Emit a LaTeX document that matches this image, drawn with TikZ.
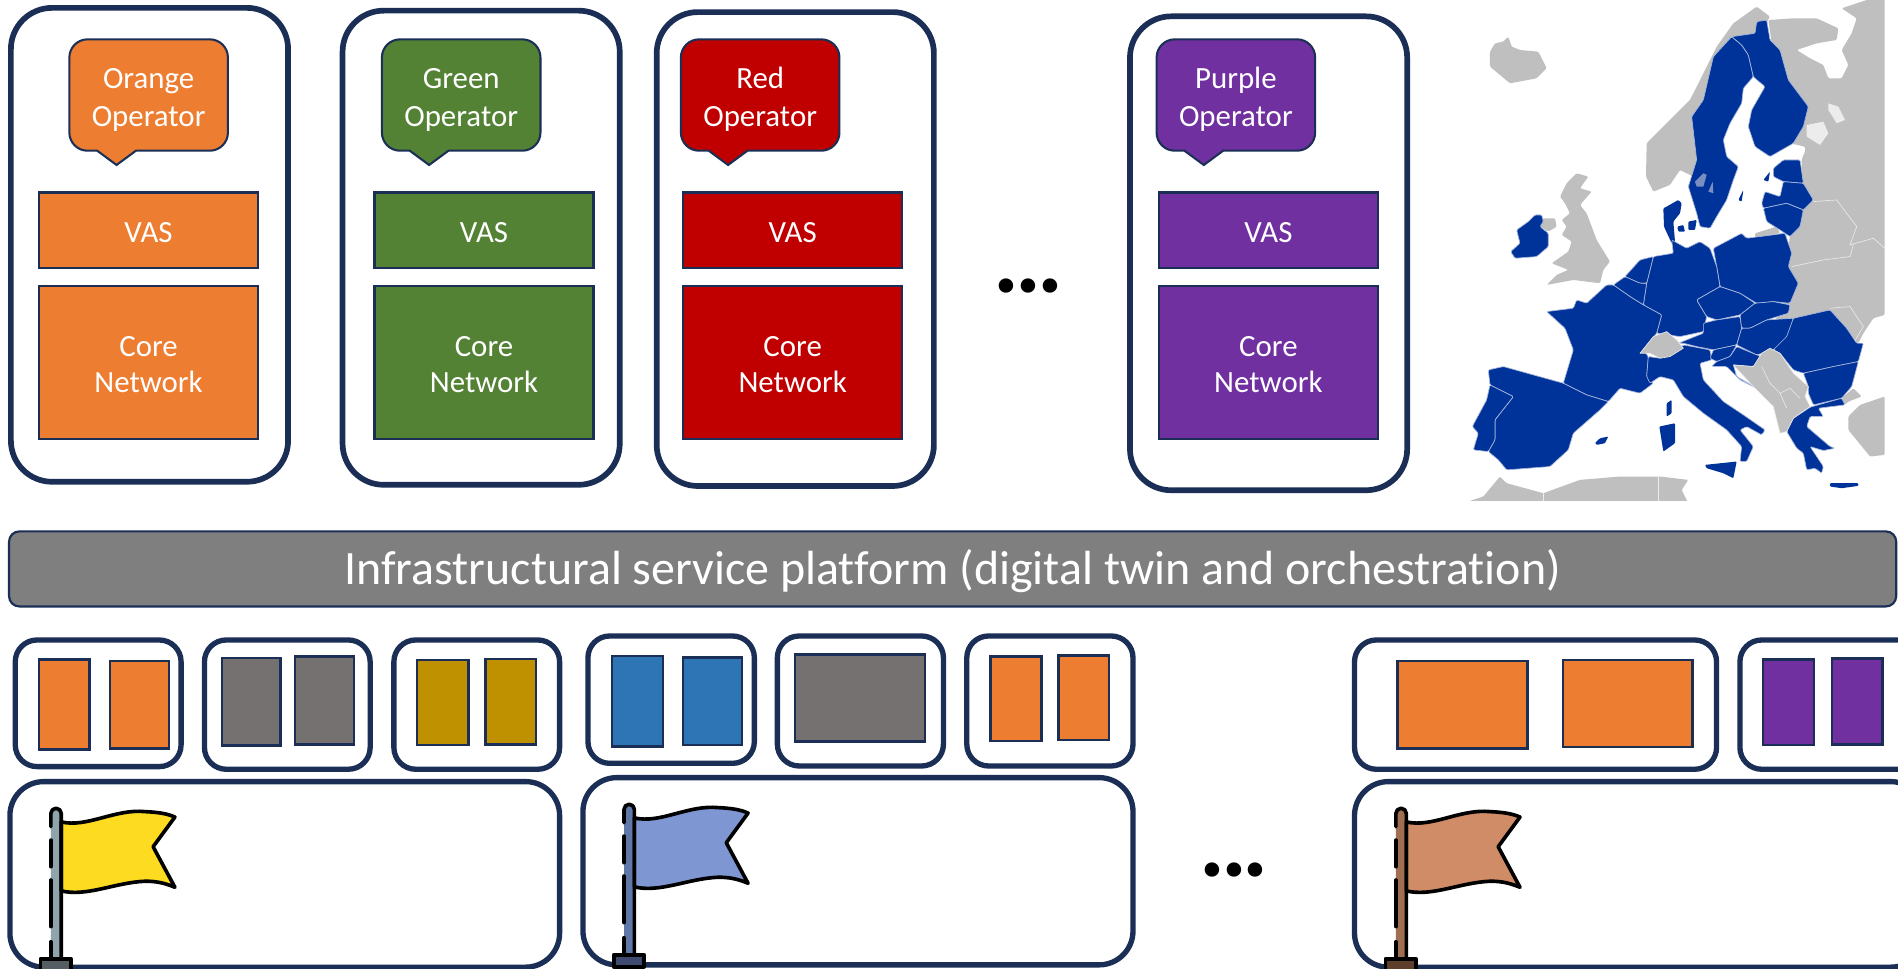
\documentclass[tikz,border=0pt]{standalone}
\usepackage{fontspec}
\setmainfont[Ligatures=NoCommon]{Carlito}
\definecolor{navy}{HTML}{1B2F56}
\definecolor{cOrange}{HTML}{ED7D31}
\definecolor{cGreen}{HTML}{548235}
\definecolor{cRed}{HTML}{C00000}
\definecolor{cPurple}{HTML}{7030A0}
\definecolor{cGold}{HTML}{BF9000}
\definecolor{cGray}{HTML}{767171}
\definecolor{cBlue}{HTML}{2E75B6}
\definecolor{cBar}{HTML}{7F7F7F}
\definecolor{euBlue}{HTML}{003399}
\definecolor{mapGray}{HTML}{BFBFBF}
\definecolor{mapLine}{HTML}{A9B8DC}
\definecolor{lakeBlue}{HTML}{7A8FBF}
\definecolor{fYa}{HTML}{FCDB21}\definecolor{fYb}{HTML}{90A4AE}\definecolor{fYc}{HTML}{545E63}
\definecolor{fBa}{HTML}{7E97D3}\definecolor{fBb}{HTML}{6078A8}\definecolor{fBc}{HTML}{3E4A70}
\definecolor{fNa}{HTML}{D08C66}\definecolor{fNb}{HTML}{A06E50}\definecolor{fNc}{HTML}{5E3F2C}
\tikzset{
  panel/.style={draw=navy,line width=4.7pt,rounded corners=34pt,fill=white},
  smallpanel/.style={draw=navy,line width=4.4pt,rounded corners=18pt,fill=white},
  sitepanel/.style={draw=navy,line width=4.4pt,rounded corners=28pt,fill=white},
  block/.style={draw=navy,line width=2pt},
  barbox/.style={draw=navy,line width=1.8pt,fill=cBar,rounded corners=8.5pt},
  eu/.style={fill=euBlue,draw=mapLine,line width=.55pt,line join=round,rounded corners=1pt},
  euIsle/.style={fill=euBlue,rounded corners=.8pt},
  nonEu/.style={fill=mapGray,draw=none,rounded corners=1pt},
  nonEuL/.style={fill=mapGray,draw=white!85!gray,line width=.5pt,line join=round},
  lbl/.style={text=white,font=\fontsize{25.5}{30.5}\selectfont,align=center},
  dotsty/.style={font=\fontsize{80}{80}\selectfont\bfseries}
}
\newcommand{\threedots}{.\kern-3.5pt.\kern-3.5pt.}
\newcommand{\bx}[7]{%
  \pgfmathsetmacro\bxcx{(#2+#4)/2}\pgfmathsetmacro\bxcy{(#3+#5)/2}%
  \pgfmathsetmacro\bxw{#4-#2}\pgfmathsetmacro\bxh{#5-#3}%
  \node[rectangle,inner sep=0pt,outer sep=0pt,minimum width=\bxw pt,minimum height=\bxh pt,#6] (#1) at (\bxcx,\bxcy) {#7};}
\newcommand{\blocktext}[8]{% name, x1, y1, x2, y2, colour, text, label name
  \bx{#1}{#2}{#3}{#4}{#5}{block,fill=#6}{}
  \pgfmathsetmacro\bxcy{(#3+#5)/2+1.7}%
  \node[lbl] (#8) at (\bxcx,\bxcy) {#7};}
\newcommand{\bubble}[4]{% name, left, colour, text
  \path[draw=navy,line width=1.7pt,fill=#3]
    (#2+15,32.5) -- (#2+116,32.5) arc[start angle=90,end angle=0,radius=15pt] -- (#2+131,109.5)
    arc[start angle=0,end angle=-90,radius=15pt] -- (#2+55,124.5) -- (#2+39,136.3) -- (#2+23,124.5) -- (#2+15,124.5)
    arc[start angle=270,end angle=180,radius=15pt] -- (#2,47.5) arc[start angle=180,end angle=90,radius=15pt] -- cycle;
  \node[lbl] (#1) at (#2+65.5,82.3) {#4};}
\newcommand{\flagicon}[5]{% dx, dy, cloth, pole, base
  \begin{scope}[shift={(#1,#2)},line cap=round,line join=round]
    \fill[#4] (42,672) arc[start angle=180,end angle=0,radius=4.3pt] -- (50.6,792) -- (42,792) -- cycle;
    \draw[fill=#3,line width=3pt] (50.6,679) .. controls (72,684) and (95,668) .. (120,670.5)
      .. controls (130,671) and (138,672) .. (144.5,675) -- (126.5,699.5) -- (144.5,733)
      .. controls (135,729) and (128,728) .. (120,728) .. controls (95,729) and (72,741) .. (50.6,736) -- cycle;
    \draw[line width=3pt] (42,683) -- (42,672) arc[start angle=180,end angle=0,radius=4.3pt] -- (50.6,792);
    \draw[line width=3pt] (42,694) -- (42,716) (42,727) -- (42,765.5) (42,778) -- (42,792);
    \draw[fill=#5,line width=3pt] (33.5,792) rectangle (58.5,802);
  \end{scope}}
\begin{document}
\begin{tikzpicture}[x=1pt,y=-1pt]
\useasboundingbox (0,0) rectangle (1568,800.5);
\clip (0,0) rectangle (1568,800.5);
\fill[white] (0,0) rectangle (1568,800.5);

% operator columns
\bx{pO}{9}{6.5}{238}{398}{panel}{}
\bx{pG}{283}{8.8}{512}{400.5}{panel}{}
\bx{pR}{542.5}{10}{771.5}{401.5}{panel}{}
\bx{pP}{933.5}{13.5}{1162.5}{405}{panel}{}
\bubble{bO}{57.3}{cOrange}{Orange\\[1pt]Operator}
\bubble{bG}{315.5}{cGreen}{Green\\[1pt]Operator}
\bubble{bR}{562.5}{cRed}{Red\\[1pt]Operator}
\bubble{bP}{955.5}{cPurple}{Purple\\[1pt]Operator}
\blocktext{vO}{32.4}{159}{213}{221.4}{cOrange}{VAS}{tvO}
\blocktext{cO}{32.4}{236.5}{213}{362.5}{cOrange}{Core\\Network}{tcO}
\blocktext{vG}{309.4}{159}{490.3}{221.4}{cGreen}{VAS}{tvG}
\blocktext{cG}{309.4}{236.5}{490.3}{362.5}{cGreen}{Core\\Network}{tcG}
\blocktext{vR}{564.4}{159}{745.3}{221.4}{cRed}{VAS}{tvR}
\blocktext{cR}{564.4}{236.5}{745.3}{362.5}{cRed}{Core\\Network}{tcR}
\blocktext{vP}{957.4}{159}{1138.3}{221.4}{cPurple}{VAS}{tvP}
\blocktext{cP}{957.4}{236.5}{1138.3}{362.5}{cPurple}{Core\\Network}{tcP}
\node[dotsty] (dotsTop) at (849.5,236) {\threedots};

% platform bar
\bx{bar}{7.5}{439}{1566.5}{501}{barbox}{}
\node[text=white,font=\fontsize{39.6}{44}\selectfont] (barText) at (787,472) {Infrastructural service platform (digital twin and orchestration)};

% site panels
\bx{sa}{12.6}{528.7}{149.6}{633.3}{smallpanel}{}
\bx{sa1}{32.3}{544.7}{74}{619.3}{block,fill=cOrange}{}
\bx{sa2}{91}{546}{139.4}{618.2}{block,fill=cOrange}{}
\bx{sb}{168.9}{528.7}{305.8}{635.5}{smallpanel}{}
\bx{sb1}{183.4}{543.6}{231.8}{616}{block,fill=cGray}{}
\bx{sb2}{243.5}{542.2}{292.5}{614.9}{block,fill=cGray}{}
\bx{sc}{325.4}{528.7}{462.3}{635.5}{smallpanel}{}
\bx{sc1}{344.7}{545}{387}{615.4}{block,fill=cGold}{}
\bx{sc2}{401}{544.4}{442.7}{614.9}{block,fill=cGold}{}
\bx{siteA}{8.2}{645.7}{462.3}{799}{sitepanel}{}
\bx{sd}{485.7}{525.4}{623.2}{630.6}{smallpanel}{}
\bx{sd1}{505.6}{541.9}{547.7}{616.8}{block,fill=cBlue}{}
\bx{sd2}{564.4}{543}{613}{615.4}{block,fill=cBlue}{}
\bx{se}{642.2}{525.4}{779.4}{632.8}{smallpanel}{}
\bx{se1}{657}{540.6}{764}{612.7}{block,fill=cGray}{}
\bx{sf}{798.7}{525.4}{936}{632.8}{smallpanel}{}
\bx{sf1}{818.3}{542.5}{860.4}{612.1}{block,fill=cOrange}{}
\bx{sf2}{874.6}{541.4}{916.3}{611.3}{block,fill=cOrange}{}
\bx{siteB}{481.6}{642.4}{936}{797.1}{sitepanel}{}
\bx{sg}{1119}{528.7}{1418.1}{635.5}{smallpanel}{}
\bx{sg1}{1154.4}{546}{1262}{618.2}{block,fill=cOrange}{}
\bx{sg2}{1291.3}{545.2}{1398.2}{617.1}{block,fill=cOrange}{}
\bx{sh}{1437.4}{528.7}{1590}{635.5}{smallpanel}{}
\bx{sh1}{1456.4}{544.7}{1498.8}{615.4}{block,fill=cPurple}{}
\bx{sh2}{1513.3}{544}{1555}{614.9}{block,fill=cPurple}{}
\bx{siteC}{1119}{645.7}{1590}{799}{sitepanel}{}
\node[dotsty] (dotsBot) at (1019.5,719) {\threedots};
\flagicon{0}{0}{fYa}{fYb}{fYc}
\flagicon{473.5}{-3.3}{fBa}{fBb}{fBc}
\flagicon{1111.2}{0}{fNa}{fNb}{fNc}

% map of Europe
\begin{scope}[shift={(1189.6,0)},x=.2754pt,y=-.2753pt]
\clip (70,-5) rectangle (1334,1502);
% non-EU land
\path[nonEu] (150,155) -- (165,130) -- (190,125) -- (205,110) -- (215,140) -- (240,150) -- (295,155) -- (320,205) -- (290,235) -- (210,250) -- (180,225) -- (150,200) -- cycle;
\path[nonEu] (640,575) -- (618,530) -- (620,430) -- (680,370) -- (750,300) -- (790,220) -- (830,140) -- (880,70) -- (950,20) -- (990,50) -- (960,100) -- (880,115) -- (830,200) -- (800,400) -- (760,530) -- (720,510) -- (690,555) -- cycle;
\path[nonEu] (985,60) -- (1060,55) -- (1130,55) -- (1195,85) -- (1190,120) -- (1130,130) -- (1070,150) -- (1110,175) -- (1150,195) -- (1165,235) -- (1205,235) -- (1225,195) -- (1205,150) -- (1235,100) -- (1250,55) -- (1205,25) -- (1280,0) -- (1334,-5) -- (1334,945) -- (1300,955) -- (1270,1000) -- (1255,1030) -- (1200,1000) -- (1000,1000) -- (1040,800) -- (1050,700) -- (1085,560) -- (1085,478) -- (1095,455) -- (1095,440) -- (1050,430) -- (1020,300) -- cycle;
\fill[white!85!gray] (1100,375) -- (1150,365) -- (1165,400) -- (1140,435) -- (1100,410) -- cycle;
\fill[white!85!gray] (1165,310) -- (1195,320) -- (1215,360) -- (1190,370) -- (1165,330) -- cycle;
\draw[white!85!gray,line width=.5pt] (1120,605) -- (1190,600) -- (1250,680) -- (1230,735) -- (1300,715) -- (1334,745) (1055,800) -- (1150,780) -- (1230,770) -- (1240,735) (1170,925) -- (1230,920) -- (1270,980) -- (1240,1030);
\path[nonEu] (945,700) -- (1010,680) -- (1020,700) -- (945,712) -- cycle;
\path[nonEu] (360,590) -- (380,550) -- (410,520) -- (445,530) -- (420,565) -- (455,575) -- (420,615) -- (440,640) -- (470,720) -- (510,785) -- (490,810) -- (480,850) -- (400,840) -- (320,855) -- (350,825) -- (385,810) -- (335,790) -- (385,755) -- (395,725) -- (365,705) -- (380,680) -- (365,660) -- (390,640) -- (375,610) -- cycle;
\path[nonEu] (300,655) -- (345,655) -- (350,680) -- (325,695) -- (300,680) -- cycle;
\path[nonEu] (1205,1195) -- (1240,1165) -- (1265,1190) -- (1225,1205) -- (1215,1215) -- cycle;
\path[nonEu] (1334,1190) -- (1260,1215) -- (1225,1250) -- (1225,1290) -- (1290,1370) -- (1334,1365) -- cycle;
\path[nonEu] (70,1510) -- (130,1490) -- (180,1430) -- (200,1450) -- (310,1480) -- (420,1440) -- (540,1430) -- (660,1430) -- (745,1440) -- (725,1470) -- (745,1510) -- cycle;
\draw[white!85!gray,line width=.5pt] (310,1480) -- (310,1510) (655,1430) -- (655,1510);
% EU members
\path[eu] (875,110) -- (905,135) -- (925,165) -- (940,230) -- (910,265) -- (905,310) -- (870,370) -- (850,420) -- (860,470) -- (895,500) -- (880,540) -- (860,600) -- (830,650) -- (810,685) -- (780,680) -- (770,640) -- (745,560) -- (770,480) -- (755,350) -- (790,300) -- (820,170) -- cycle;
\path[eu] (875,110) -- (945,100) -- (950,65) -- (980,60) -- (990,120) -- (1020,150) -- (1045,240) -- (1105,320) -- (1090,380) -- (1060,430) -- (990,470) -- (945,440) -- (925,380) -- (935,330) -- (975,260) -- (945,235) -- (940,230) -- (925,165) -- (905,135) -- cycle;
\fill[lakeBlue] (765,545) -- (790,520) -- (800,525) -- (790,560) -- (770,560) -- cycle;
\fill[lakeBlue] (805,575) -- (818,545) -- (820,580) -- cycle;
\path[euIsle] (670,625) -- (680,620) -- (715,600) -- (725,610) -- (720,640) -- (700,665) -- (705,725) -- (695,730) -- (672,680) -- cycle;
\path[euIsle] (712,680) -- (730,675) -- (735,695) -- (715,695) -- cycle;
\path[euIsle] (745,665) -- (770,660) -- (765,690) -- (745,690) -- cycle;
\path[euIsle] (895,600) -- (910,570) -- (905,605) -- cycle;
\path[euIsle] (970,540) -- (990,515) -- (985,545) -- cycle;
\path[eu] (1000,505) -- (1030,480) -- (1080,480) -- (1090,550) -- (1030,545) -- (1000,530) -- cycle;
\path[eu] (965,610) -- (975,575) -- (1020,590) -- (1030,545) -- (1090,550) -- (1120,600) -- (1090,630) -- (1040,610) -- (970,625) -- cycle;
\path[eu] (970,625) -- (1040,610) -- (1090,630) -- (1080,680) -- (1050,710) -- (1020,690) -- (980,665) -- cycle;
\path[eu] (820,745) -- (905,700) -- (920,715) -- (1035,700) -- (1055,760) -- (1045,800) -- (1075,850) -- (1050,910) -- (1000,905) -- (950,910) -- (900,880) -- (840,860) -- (830,800) -- cycle;
\path[eu] (700,760) -- (695,720) -- (740,745) -- (780,725) -- (810,745) -- (830,800) -- (840,860) -- (770,900) -- (800,950) -- (790,995) -- (720,1010) -- (650,1000) -- (665,945) -- (610,915) -- (620,850) -- (640,770) -- cycle;
\path[eu] (555,830) -- (600,780) -- (640,770) -- (620,850) -- (600,850) -- cycle;
\path[eu] (520,855) -- (555,830) -- (600,850) -- (620,850) -- (610,915) -- (570,890) -- cycle;
\path[eu] (500,855) -- (520,855) -- (570,890) -- (610,915) -- (665,945) -- (650,1000) -- (610,1050) -- (625,1070) -- (620,1130) -- (640,1150) -- (600,1180) -- (540,1165) -- (505,1205) -- (440,1185) -- (370,1150) -- (400,1050) -- (375,985) -- (320,935) -- (400,925) -- (410,900) -- (440,910) -- cycle;
\path[eu] (145,1110) -- (190,1100) -- (370,1150) -- (440,1185) -- (505,1205) -- (480,1230) -- (400,1300) -- (385,1350) -- (330,1400) -- (200,1410) -- (175,1380) -- (145,1355) -- (165,1320) -- (165,1260) -- (220,1190) -- (150,1155) -- cycle;
\path[eu] (150,1155) -- (220,1190) -- (165,1260) -- (165,1320) -- (145,1355) -- (100,1350) -- (115,1300) -- (97,1280) -- (140,1200) -- cycle;
\path[eu] (625,1070) -- (660,1075) -- (700,1060) -- (730,1035) -- (810,1050) -- (815,1080) -- (780,1090) -- (790,1140) -- (850,1205) -- (910,1245) -- (975,1290) -- (965,1305) -- (920,1280) -- (900,1290) -- (940,1340) -- (920,1385) -- (900,1385) -- (905,1340) -- (860,1290) -- (790,1240) -- (730,1190) -- (700,1140) -- (660,1130) -- (630,1150) -- (620,1130) -- cycle;
\path[euIsle] (795,1395) -- (890,1385) -- (880,1435) -- (850,1420) -- (800,1405) -- cycle;
\path[euIsle] (658,1280) -- (705,1270) -- (705,1330) -- (670,1355) -- cycle;
\path[euIsle] (680,1210) -- (695,1200) -- (695,1240) -- (680,1250) -- cycle;
\path[euIsle] (465,1330) -- (480,1315) -- (505,1310) -- (495,1330) -- (470,1335) -- cycle;
\path[eu] (715,1030) -- (790,1000) -- (790,970) -- (830,960) -- (900,950) -- (905,985) -- (890,1035) -- (820,1050) -- (770,1040) -- (730,1030) -- cycle;
\path[eu] (770,900) -- (840,860) -- (900,880) -- (945,910) -- (900,945) -- (830,960) -- (800,950) -- cycle;
\path[eu] (945,910) -- (1000,905) -- (1050,915) -- (1045,940) -- (980,960) -- (930,985) -- (905,985) -- (900,945) -- cycle;
\path[eu] (905,985) -- (930,985) -- (980,960) -- (1060,955) -- (1040,1020) -- (1000,1050) -- (950,1065) -- (890,1035) -- cycle;
\path[eu] (820,1050) -- (890,1035) -- (870,1070) -- (830,1085) -- (810,1075) -- cycle;
\path[eu] (830,1085) -- (870,1070) -- (890,1040) -- (950,1065) -- (965,1070) -- (940,1100) -- (880,1095) -- (890,1130) -- (960,1170) -- (900,1140) -- (860,1100) -- (815,1100) -- cycle;
\path[eu] (1060,955) -- (1170,930) -- (1220,985) -- (1250,1030) -- (1270,1030) -- (1255,1085) -- (1180,1100) -- (1090,1120) -- (1060,1110) -- (1020,1060) -- (1000,1050) -- (1040,1010) -- cycle;
\path[eu] (1090,1120) -- (1180,1100) -- (1255,1085) -- (1235,1160) -- (1205,1195) -- (1120,1215) -- (1105,1180) -- (1105,1160) -- cycle;
\path[eu] (1040,1295) -- (1060,1255) -- (1110,1222) -- (1205,1195) -- (1215,1215) -- (1135,1225) -- (1150,1250) -- (1110,1250) -- (1100,1280) -- (1170,1340) -- (1185,1345) -- (1150,1352) -- (1110,1340) -- (1150,1400) -- (1145,1420) -- (1125,1405) -- (1100,1410) -- (1090,1360) -- (1070,1345) -- cycle;
\path[euIsle] (1170,1450) -- (1255,1450) -- (1255,1458) -- (1205,1465) -- (1170,1460) -- cycle;
\path[eu] (285,645) -- (305,645) -- (310,665) -- (300,680) -- (325,700) -- (325,740) -- (290,770) -- (225,775) -- (212,755) -- (240,730) -- (230,690) -- (265,665) -- cycle;
% non-EU land drawn above the members
\path[nonEuL] (600,1060) -- (640,1010) -- (680,995) -- (710,1020) -- (730,1045) -- (690,1070) -- (660,1075) -- (630,1060) -- cycle;
\path[nonEuL] (880,1095) -- (940,1100) -- (965,1060) -- (990,1045) -- (1020,1060) -- (1060,1120) -- (1105,1160) -- (1095,1190) -- (1110,1220) -- (1060,1255) -- (1040,1295) -- (1020,1300) -- (1000,1220) -- (940,1160) -- cycle;
\draw[white!85!gray,line width=.5pt] (965,1100) -- (990,1150) -- (1020,1180) -- (1050,1165) -- (1080,1195) (1020,1180) -- (1040,1225);
\end{scope}
\end{tikzpicture}
\end{document}
